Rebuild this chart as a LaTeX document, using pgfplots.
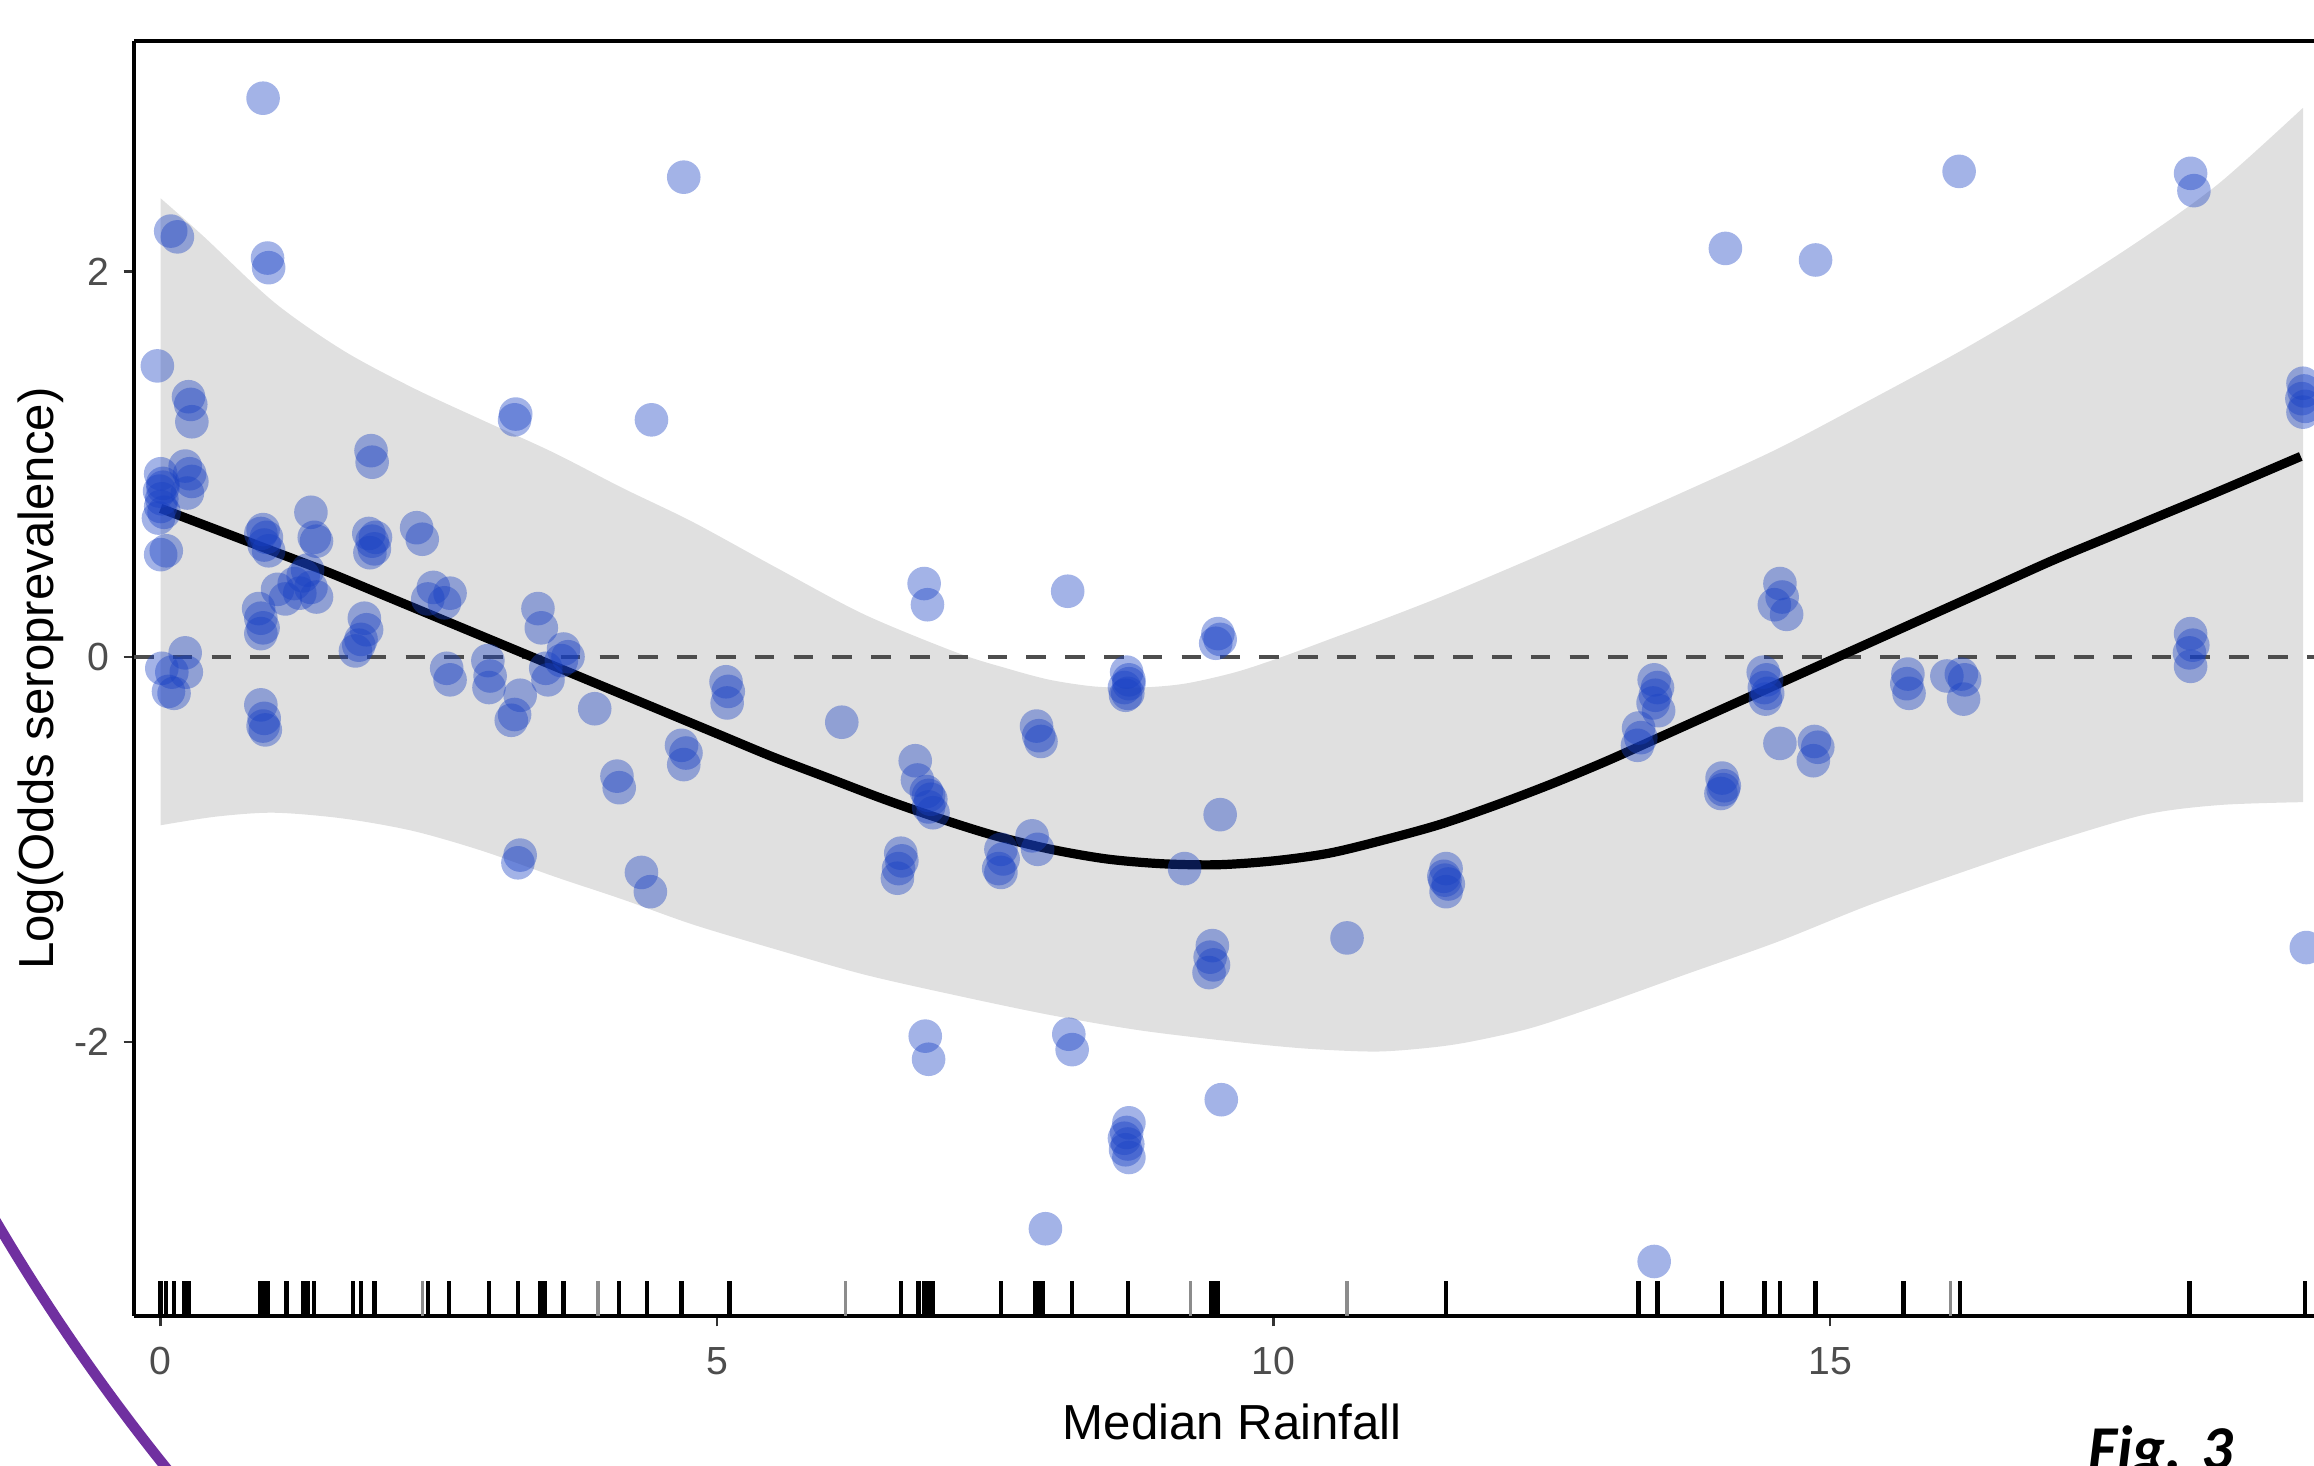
\documentclass[border=0pt]{standalone}
\usepackage{fontspec}
\setmainfont{Liberation Sans}
\newfontfamily\carlito{Carlito}
\usepackage{pgfplots}
\pgfplotsset{compat=1.18}
\usepgfplotslibrary{fillbetween}
\usetikzlibrary{plotmarks}

\definecolor{ptblue}{RGB}{24,64,196}
\definecolor{ribbon}{RGB}{224,224,224}
\definecolor{dashgray}{RGB}{77,77,77}
\definecolor{tickgray}{RGB}{77,77,77}
\definecolor{arcpurple}{RGB}{112,48,160}

\begin{document}
\begin{tikzpicture}
\begin{axis}[
  at={(33.5pt,37.5pt)}, anchor=south west,
  width=545pt, height=318.75pt, scale only axis,
  xmin=-0.2399, xmax=19.349, ymin=-3.423, ymax=3.197,
  axis x line*=box, axis y line*=left,
  axis line style={line width=1.1pt, black, -},
  every outer x axis line/.append style={-},
  every outer y axis line/.append style={-},
  every inner x axis line/.append style={-},
  every inner y axis line/.append style={-},
  xtick={0,5,10,15}, xticklabels={0,5,10,15},
  ytick={-2,0,2}, yticklabels={-2,0,2},
  xtick pos=bottom, ytick pos=left,
  tick align=outside,
  major tick length=2.6pt,
  major tick style={line width=0.6pt, color=black!80},
  ticklabel style={font=\fontsize{9.8}{11}\selectfont, text=tickgray, inner sep=0pt},
  xticklabel style={anchor=north, yshift=-5.1pt},
  yticklabel style={anchor=east, xshift=-3.4pt},
  xlabel={Median Rainfall},
  ylabel={Log(Odds seroprevalence)},
  every axis x label/.style={at={(rel axis cs:0.5038,0)}, anchor=base, yshift=-31pt, font=\fontsize{12.3}{14}\selectfont},
  every axis y label/.style={at={(rel axis cs:0,0.5)}, rotate=90, anchor=base, yshift=20.25pt, font=\fontsize{12.3}{14}\selectfont},
]

% confidence band
\addplot[name path=U, draw=none, smooth, forget plot] table {
0     2.38
0.39  2.18
1.02  1.84
1.64  1.59
2.27  1.395
2.90  1.226
3.53  1.06
4.15  0.876
4.78  0.70
5.53  0.463
6.32  0.22
7.16  0.02
7.60  -0.06
7.99  -0.12
8.40  -0.155
8.80  -0.16
9.20  -0.14
9.66  -0.08
10.08 0.0
10.50 0.09
10.92 0.18
11.50 0.31
12.20 0.48
12.88 0.65
13.70 0.86
14.53 1.08
15.35 1.33
16.18 1.59
17.00 1.87
17.83 2.18
18.50 2.46
19.25 2.85
};
\addplot[name path=L, draw=none, smooth, forget plot] table {
0     -0.875
0.50  -0.83
1.02  -0.81
1.64  -0.84
2.27  -0.905
2.90  -1.01
3.53  -1.14
4.15  -1.26
4.78  -1.39
5.53  -1.52
6.32  -1.65
7.16  -1.76
7.99  -1.86
8.80  -1.94
9.66  -2.00
10.30 -2.035
10.92 -2.05
11.40 -2.03
11.76 -2.00
12.30 -1.93
12.88 -1.82
13.70 -1.65
14.53 -1.48
15.35 -1.29
16.18 -1.12
17.00 -0.96
17.83 -0.82
18.50 -0.77
19.25 -0.755
};
\addplot[fill=ribbon, draw=none] fill between[of=U and L];

% zero reference line
\addplot[dashgray, line width=1pt, dash pattern=on 4.9pt off 4.8pt] coordinates {(-0.2399,0) (19.349,0)};

% fitted curve
\addplot[black, line width=2.3pt, smooth] table {
0     0.77
0.5   0.66
1     0.55
1.5   0.44
2     0.32
2.5   0.20
3     0.08
3.5   -0.04
4     -0.16
4.5   -0.28
5     -0.40
5.5   -0.52
6     -0.63
6.5   -0.74
7     -0.84
7.5   -0.93
8     -1.00
8.5   -1.05
9     -1.075
9.5   -1.08
10    -1.06
10.5  -1.02
11    -0.95
11.5  -0.87
12    -0.77
12.5  -0.66
13    -0.54
13.5  -0.41
14    -0.28
14.5  -0.15
15    -0.02
15.5  0.11
16    0.24
16.5  0.37
17    0.50
17.5  0.62
18    0.74
18.5  0.86
19.23 1.04
};

% observations
\addplot[only marks, mark=*, mark size=4.2pt, mark options={draw=ptblue, draw opacity=0, line width=0pt, fill=ptblue, fill opacity=0.4}] table {
-0.03 1.51
0.09 2.21
0.15 2.18
0.00 0.95
0.02 0.90
-0.01 0.86
0.01 0.82
0.00 0.78
0.03 0.75
-0.02 0.72
0.02 0.88
0.00 0.53
0.05 0.55
0.25 1.35
0.27 1.31
0.28 1.22
0.22 0.99
0.26 0.95
0.28 0.91
0.24 0.85
0.10 -0.08
0.12 -0.19
0.07 -0.18
0.22 0.02
0.23 -0.08
0.01 -0.06
0.92 2.90
0.96 2.07
0.97 2.02
0.92 0.66
0.95 0.62
0.93 0.58
0.97 0.55
0.90 0.64
0.88 0.25
0.90 0.20
0.92 0.15
0.90 0.12
0.90 -0.25
0.93 -0.32
0.94 -0.38
0.92 -0.36
1.05 0.35
1.12 0.30
1.20 0.38
1.28 0.42
1.35 0.36
1.40 0.31
1.32 0.45
1.25 0.33
1.35 0.75
1.38 0.62
1.40 0.60
1.89 1.07
1.90 1.01
1.87 0.64
1.90 0.60
1.92 0.56
1.88 0.54
1.93 0.62
1.83 0.20
1.85 0.14
1.80 0.09
1.75 0.03
1.78 0.06
2.30 0.67
2.35 0.61
2.45 0.36
2.60 0.33
2.40 0.30
2.55 0.28
2.57 -0.06
2.60 -0.12
3.19 1.26
3.18 1.23
2.94 -0.02
2.96 -0.10
2.95 -0.16
3.23 -0.20
3.18 -0.30
3.15 -0.33
3.23 -1.03
3.21 -1.07
3.39 0.25
3.42 0.15
3.46 -0.06
3.48 -0.12
3.62 0.04
3.66 0.00
3.60 -0.02
3.90 -0.27
4.10 -0.62
4.12 -0.68
4.41 1.23
4.32 -1.12
4.40 -1.22
4.70 2.49
4.68 -0.46
4.72 -0.50
4.70 -0.56
5.08 -0.13
5.10 -0.18
5.09 -0.24
6.12 -0.34
6.86 0.38
6.89 0.27
6.78 -0.54
6.80 -0.64
6.88 -0.70
6.92 -0.74
6.90 -0.78
6.94 -0.81
6.90 -0.72
6.65 -1.02
6.66 -1.06
6.63 -1.10
6.62 -1.15
6.87 -1.97
6.90 -2.09
7.55 -1.00
7.57 -1.05
7.53 -1.10
7.55 -1.12
7.83 -0.93
7.88 -1.00
7.87 -0.36
7.91 -0.44
7.89 -0.41
7.95 -2.97
8.15 0.34
8.16 -1.96
8.19 -2.04
8.68 -0.08
8.70 -0.12
8.66 -0.16
8.69 -0.19
8.70 -0.14
8.67 -0.20
8.70 -2.42
8.68 -2.47
8.66 -2.50
8.69 -2.53
8.67 -2.56
8.70 -2.60
9.20 -1.10
9.50 0.12
9.48 0.07
9.52 0.09
9.52 -0.82
9.45 -1.50
9.43 -1.56
9.46 -1.60
9.42 -1.64
9.53 -2.30
10.66 -1.46
11.55 -1.10
11.53 -1.14
11.57 -1.18
11.55 -1.22
11.54 -1.16
13.28 -0.37
13.30 -0.42
13.27 -0.46
13.42 -0.12
13.45 -0.16
13.43 -0.20
13.41 -0.24
13.46 -0.28
13.42 -3.14
14.06 2.12
14.03 -0.63
14.05 -0.67
14.02 -0.71
14.04 -0.69
14.40 -0.08
14.43 -0.12
14.41 -0.16
14.44 -0.19
14.42 -0.22
14.55 0.38
14.57 0.31
14.50 0.27
14.61 0.22
14.55 -0.45
14.87 2.06
14.86 -0.44
14.89 -0.47
14.85 -0.54
15.70 -0.09
15.69 -0.14
15.71 -0.19
16.16 2.52
16.05 -0.10
16.18 -0.09
16.21 -0.12
16.20 -0.22
18.24 2.51
18.27 2.42
18.24 0.12
18.26 0.06
18.23 0.02
18.24 -0.05
19.25 1.42
19.26 1.38
19.24 1.34
19.27 1.30
19.25 1.27
19.28 -1.51
};

% rug (dark)
\addplot[only marks, mark=|, mark size=4.35pt, mark options={line width=1.1pt, black}] table {
0.00 -3.333
0.05 -3.333
0.12 -3.333
0.21 -3.333
0.25 -3.333
0.89 -3.333
0.93 -3.333
0.96 -3.333
1.13 -3.333
1.28 -3.333
1.32 -3.333
1.38 -3.333
1.73 -3.333
1.80 -3.333
1.92 -3.333
2.40 -3.333
2.59 -3.333
2.95 -3.333
3.21 -3.333
3.41 -3.333
3.45 -3.333
3.62 -3.333
4.12 -3.333
4.37 -3.333
4.68 -3.333
5.11 -3.333
6.65 -3.333
6.81 -3.333
6.86 -3.333
6.90 -3.333
6.94 -3.333
7.55 -3.333
7.86 -3.333
7.90 -3.333
7.93 -3.333
8.19 -3.333
8.69 -3.333
9.44 -3.333
9.47 -3.333
9.50 -3.333
11.55 -3.333
13.28 -3.333
13.45 -3.333
14.03 -3.333
14.41 -3.333
14.55 -3.333
14.87 -3.333
15.66 -3.333
16.17 -3.333
18.23 -3.333
19.27 -3.333
};
% rug (light)
\addplot[only marks, mark=|, mark size=4.35pt, mark options={line width=0.8pt, black!45}] table {
2.35 -3.333
3.93 -3.333
6.15 -3.333
9.25 -3.333
10.66 -3.333
16.08 -3.333
};
\end{axis}

% slide decoration and caption
\draw[arcpurple, line width=2.6pt] (441.75pt,321.25pt) ++(207:513.5pt) arc[start angle=207, end angle=224, radius=513.5pt];
\node[anchor=base west, inner sep=0pt, font=\carlito\bfseries\itshape\fontsize{15.6}{18}\selectfont] at (522pt,-0.9pt) {Fig. 3};
\pgfresetboundingbox
\useasboundingbox (0,0) rectangle (578.5pt,366.5pt);
\end{tikzpicture}
\end{document}
